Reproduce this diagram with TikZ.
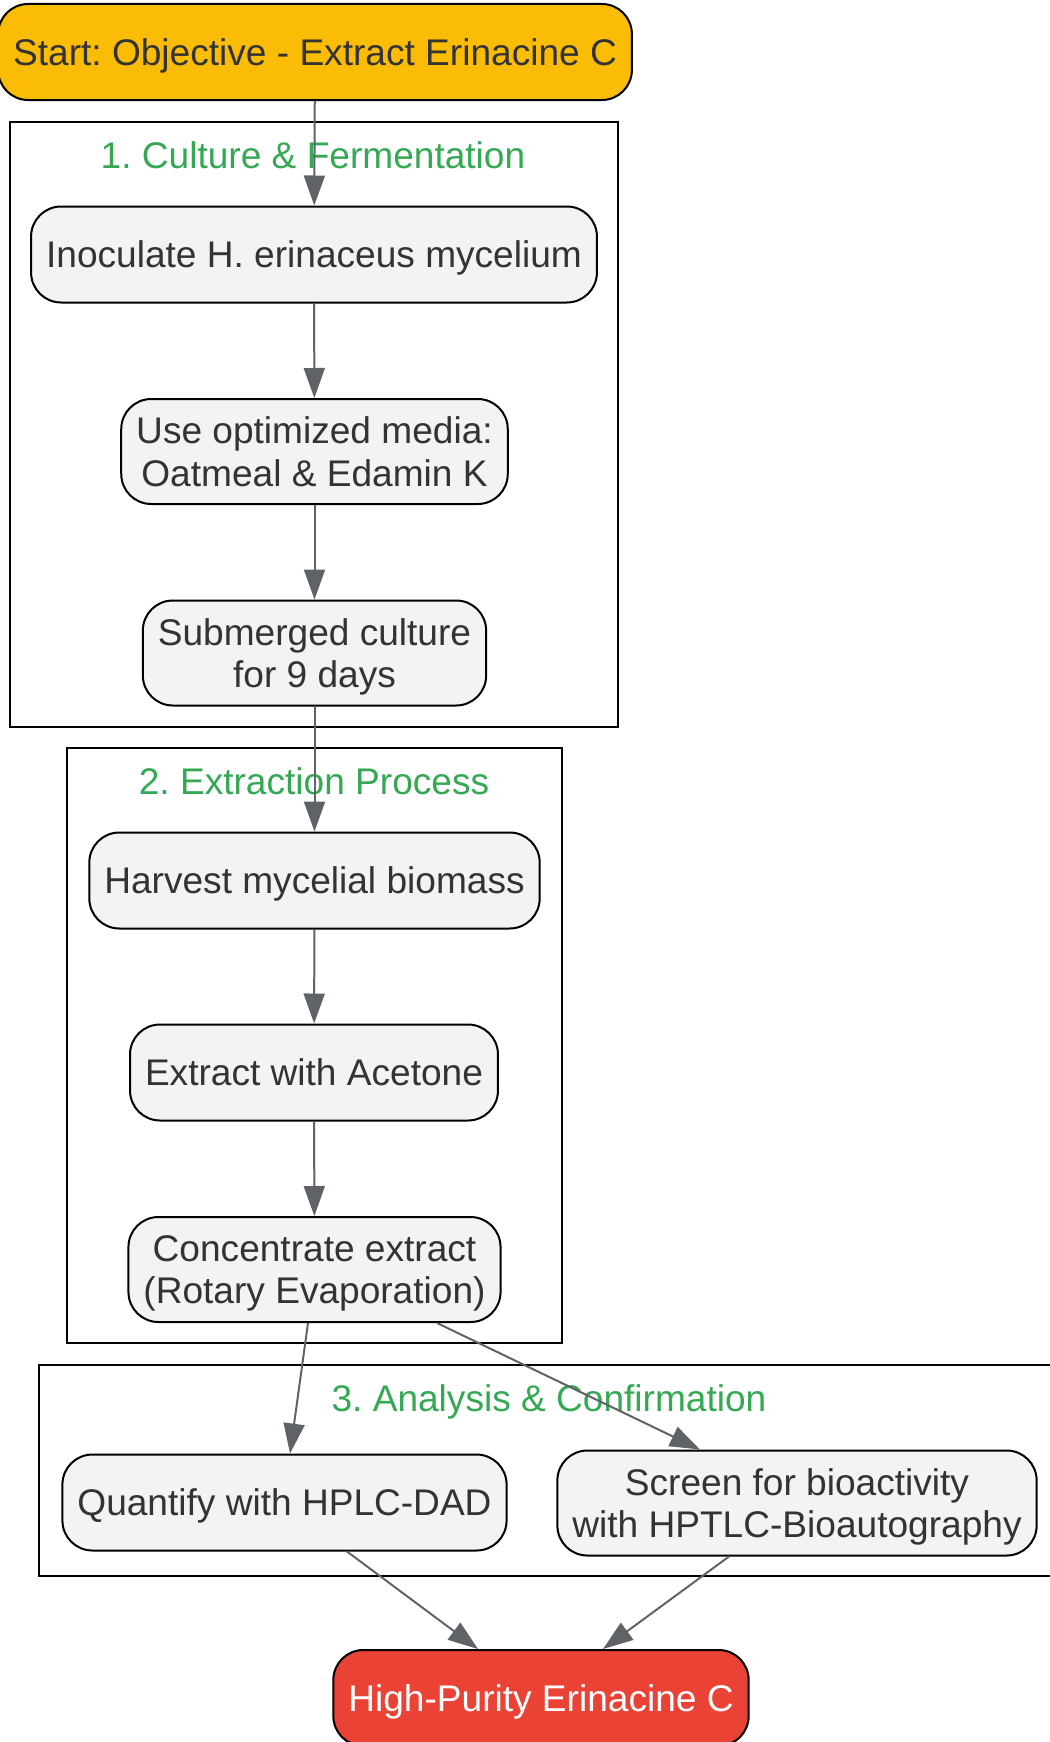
\documentclass[tikz,border=0pt]{standalone}
\usepackage{fontspec}
\setmainfont{Liberation Sans}
\usetikzlibrary{arrows.meta}
\frenchspacing

\definecolor{stepfill}{HTML}{F1F3F4}
\definecolor{startfill}{HTML}{FBBC05}
\definecolor{endfill}{HTML}{EA4335}
\definecolor{titlegreen}{HTML}{34A853}
\definecolor{arrowgray}{HTML}{5F6368}
\definecolor{textdark}{HTML}{333333}

\begin{document}
\begin{tikzpicture}[
          >={Triangle[length=0.6cm, width=0.42cm]},
          stepbox/.style={rectangle, rounded corners=0.6cm, draw=black, line width=0.04cm,
            fill=stepfill, text=textdark, align=center, inner xsep=0.3cm,
            minimum height=1.92cm, text height=15pt, text depth=0pt,
            font=\fontsize{21.1}{24}\selectfont},
          twoline/.style={minimum height=2.1cm, text height=, text depth=0pt},
          startbox/.style={stepbox, fill=startfill},
          endbox/.style={stepbox, fill=endfill, text=white},
          cluster/.style={draw=black, line width=0.045cm},
          clustertitle/.style={text=titlegreen, text height=15pt, text depth=0pt,
            font=\fontsize{21.1}{24}\selectfont},
          flow/.style={->, draw=arrowgray, fill=arrowgray, line width=0.04cm}]

        \useasboundingbox (0,0) rectangle (20.98,-34.84);

        \draw[cluster] (0.20,-2.44)  rectangle (12.36,-14.54);
        \draw[cluster] (1.34,-14.96) rectangle (11.24,-26.86);
        \draw[cluster] (0.78,-27.30) rectangle (21.40,-31.52);

        \node[clustertitle] (culture)  at (6.26,-3.11)  {1. Culture \& Fermentation};
        \node[clustertitle] (extract)  at (6.28,-15.62) {2. Extraction Process};
        \node[clustertitle] (analysis) at (10.98,-27.96) {3. Analysis \& Confirmation};

        \node[startbox] (start) at (6.30,-1.04) {Start: Objective - Extract Erinacine C};

        \node[stepbox]         (inoc)  at (6.28,-5.09)  {Inoculate H. erinaceus mycelium};
        \node[stepbox,twoline] (media) at (6.29,-9.03)  {Use optimized media:\\Oatmeal \& Edamin K};
        \node[stepbox,twoline] (subm)  at (6.29,-13.06) {Submerged culture\\for 9 days};

        \node[stepbox]         (harv)  at (6.29,-17.61) {Harvest mycelial biomass};
        \node[stepbox]         (acet)  at (6.28,-21.45) {Extract with Acetone};
        \node[stepbox,twoline] (conc)  at (6.29,-25.39) {Concentrate extract\\(Rotary Evaporation)};

        \node[stepbox]         (hplc)  at (5.69,-30.05)  {Quantify with HPLC-DAD};
        \node[stepbox,twoline] (hptlc) at (15.94,-30.06) {Screen for bioactivity\\with HPTLC-Bioautography};

        \node[endbox] (final) at (10.82,-33.96) {High-Purity Erinacine C};

        \draw[flow] (start) -- (inoc);
        \draw[flow] (inoc)  -- (media);
        \draw[flow] (media) -- (subm);
        \draw[flow] (subm)  -- (harv);
        \draw[flow] (harv)  -- (acet);
        \draw[flow] (acet)  -- (conc);
        \draw[flow] ([xshift=-0.13cm]conc.south) -- ([xshift=0.11cm]hplc.north);
        \draw[flow] ([xshift=2.45cm]conc.south)  -- ([xshift=-1.94cm]hptlc.north);
        \draw[flow] ([xshift=1.25cm]hplc.south)  -- ([xshift=-1.26cm]final.north);
        \draw[flow] ([xshift=-1.36cm]hptlc.south) -- ([xshift=1.24cm]final.north);

      \end{tikzpicture}
\end{document}
